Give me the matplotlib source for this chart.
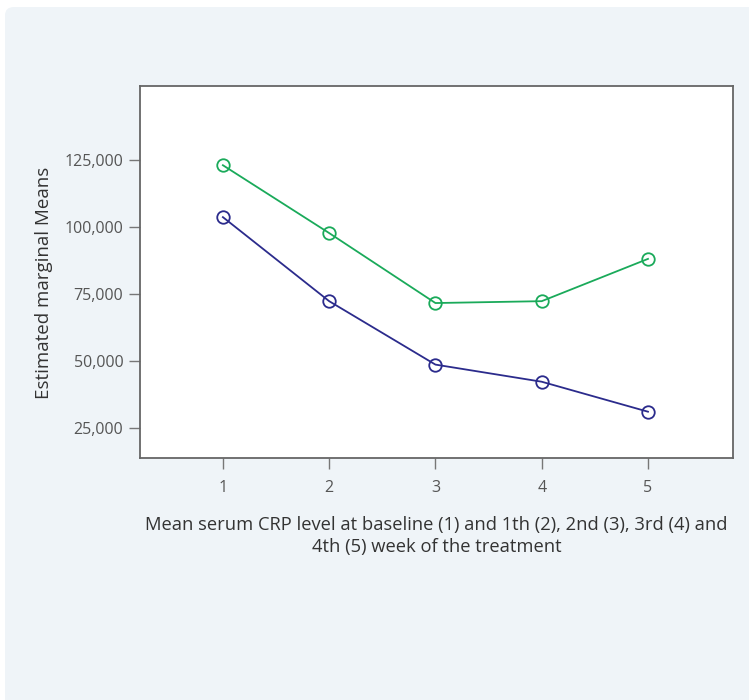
import matplotlib.pyplot as plt
from matplotlib.patches import FancyBboxPatch
from matplotlib.ticker import FuncFormatter

weeks = [1, 2, 3, 4, 5]
green_means = [123100, 97750, 71600, 72300, 88100]
blue_means = [103700, 72300, 48600, 42200, 31000]
y_ticks = [25000, 50000, 75000, 100000, 125000]

plt.rcParams['font.family'] = ['Open Sans', 'DejaVu Sans']

fig = plt.figure(figsize=(7.49, 7.0), dpi=100)
fig.patch.set_facecolor('white')

# light rounded panel behind everything
panel = FancyBboxPatch((5 / 749, -0.05), 1.05, 1.05 - 7 / 700,
                       boxstyle='round,pad=0,rounding_size=0.012',
                       transform=fig.transFigure, facecolor='#eff4f8',
                       edgecolor='none', zorder=-10)
fig.patches.append(panel)

ax = fig.add_axes([140 / 749, 1 - 458 / 700, 593 / 749, 372 / 700])
ax.set_facecolor('white')

ax.plot(weeks, green_means, color='#1aaa5a', lw=1.3, marker='o', ms=9,
        mfc='none', mec='#1aaa5a', mew=1.3)
ax.plot(weeks, blue_means, color='#2b2b8c', lw=1.3, marker='o', ms=9,
        mfc='none', mec='#2b2b8c', mew=1.3)

ax.set_xlim(0.22, 5.8)
ax.set_ylim(13700, 152700)
ax.set_xticks(weeks)
ax.set_yticks(y_ticks)
ax.yaxis.set_major_formatter(FuncFormatter(lambda v, p: '{:,}'.format(int(v))))

for s in ax.spines.values():
    s.set_color('#666666')
    s.set_linewidth(1.3)

ax.tick_params(axis='both', colors='#777777', labelcolor='#555555',
               labelsize=11.5, length=8, width=1)
ax.tick_params(axis='x', pad=8)
ax.tick_params(axis='y', pad=4)

ax.set_ylabel('Estimated marginal Means', fontsize=13.5, color='#333333')
ax.yaxis.set_label_coords(-0.146, 0.47)
ax.set_xlabel('Mean serum CRP level at baseline (1) and 1th (2), 2nd (3), 3rd (4) and\n'
              '4th (5) week of the treatment', fontsize=13.2, color='#333333',
              labelpad=14, linespacing=1.3)

fig.savefig('out.png', dpi=100, facecolor=fig.get_facecolor())
